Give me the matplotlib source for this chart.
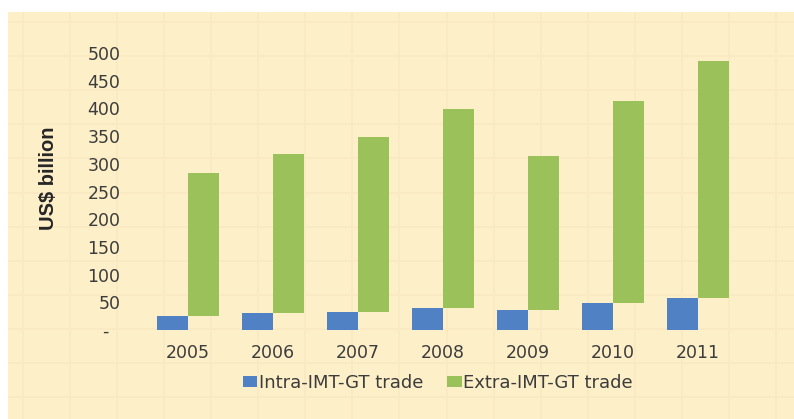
import numpy as np
import matplotlib.pyplot as plt

# data (US$ billion)
years = ['2005', '2006', '2007', '2008', '2009', '2010', '2011']
intra = [25, 31, 33, 40, 36, 49, 58]
extra = [258, 287, 315, 359, 278, 364, 428]
yticks = [0, 50, 100, 150, 200, 250, 300, 350, 400, 450, 500]
ytick_labels = ['-  ', '50', '100', '150', '200', '250', '300', '350', '400', '450', '500']

blue = '#4F81C4'
green = '#9BC25A'
cream = '#FDEFC8'
text_col = '#3C3C3C'

fig = plt.figure(figsize=(7.94, 4.19), dpi=100)

# cream panel with a faint grid pattern
bg = fig.add_axes([8 / 794, 0, 1 - 8 / 794, 1 - 12 / 419])
bg.set_facecolor(cream)
bg.set_xlim(8, 794)
bg.set_ylim(419, 12)
for gx in 23 + 47.06 * np.arange(17):
    bg.axvline(gx, color='#F9EAC2', lw=1.2, zorder=0)
for gy in 22 + 34.1 * np.arange(12):
    bg.axhline(gy, color='#F9EAC2', lw=1.2, zorder=0)
bg.set_xticks([])
bg.set_yticks([])
for s in bg.spines.values():
    s.set_visible(False)

ax = fig.add_axes([145.5 / 794, 1 - 330 / 419, 595 / 794, 277 / 419])
ax.patch.set_alpha(0)

x = np.arange(len(years))
w = 0.365
b1 = ax.bar(x - w / 2, intra, w, color=blue, label='Intra-IMT-GT trade')
b2 = ax.bar(x + w / 2, extra, w, bottom=intra, color=green, label='Extra-IMT-GT trade')

ax.set_xlim(-0.5, 6.5)
ax.set_ylim(0, 500)
ax.set_xticks(x)
ax.set_xticklabels(years)
ax.set_yticks(yticks)
ax.set_yticklabels(ytick_labels)
ax.tick_params(axis='both', length=0, labelsize=12.5, labelcolor=text_col)
ax.tick_params(axis='y', pad=18)
ax.tick_params(axis='x', pad=10)
for s in ax.spines.values():
    s.set_visible(False)

fig.text(49 / 794, 1 - 178 / 419, 'US$ billion', rotation=90, ha='center', va='center',
         fontsize=14.5, fontweight='bold', color='#262626', family='Liberation Sans')

fig.legend(handles=[b1, b2], loc='center', bbox_to_anchor=(438 / 794, 1 - 383 / 419),
           ncol=2, frameon=False, fontsize=13, labelcolor=text_col,
           handlelength=0.8, handleheight=0.6, handletextpad=0.1, columnspacing=1.3)

plt.savefig('out.png', dpi=100)
